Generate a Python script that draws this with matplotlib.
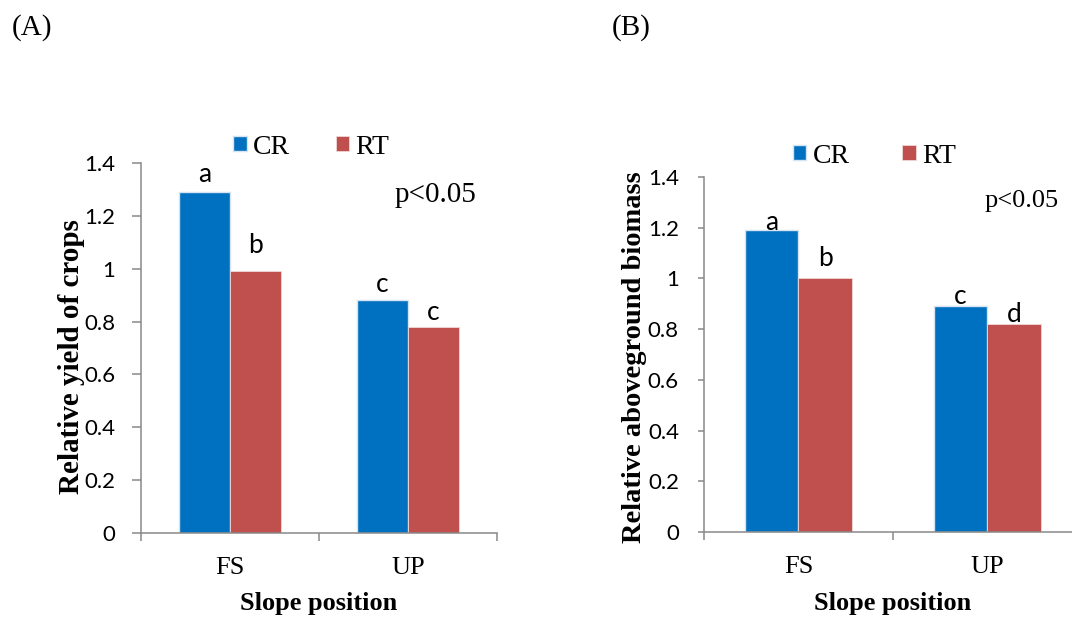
import matplotlib
matplotlib.use("Agg")
import matplotlib.pyplot as plt
import numpy as np

# data
positions = ["FS", "UP"]
series = ["CR", "RT"]
yield_cr = [1.29, 0.88]
yield_rt = [0.99, 0.78]
yield_letters_cr = ["a", "c"]
yield_letters_rt = ["b", "c"]
biomass_cr = [1.19, 0.89]
biomass_rt = [1.00, 0.82]
biomass_letters_cr = ["a", "c"]
biomass_letters_rt = ["b", "d"]
yticks = [0, 0.2, 0.4, 0.6, 0.8, 1, 1.2, 1.4]
ytick_labels = ["0", "0.2", "0.4", "0.6", "0.8", "1", "1.2", "1.4"]

blue = "#0070C0"
red = "#C0504D"
grey = "#898989"
serif = "Liberation Serif"
sans = "Lato"

fig = plt.figure(figsize=(10.72, 6.19), dpi=100)


def panel(rect, cr, rt, let_cr, let_rt, pads_cr, pads_rt, ylabel, ylab_xy, xlab_y,
          tick_len, tick_pad, leg_xy, colspace, p_xy, p_size):
    ax = fig.add_axes(rect)
    x = np.arange(len(positions))
    w = 0.285
    b1 = ax.bar(x - w / 2, cr, w, color=blue, edgecolor="#d5e3f3", linewidth=1.0, label=series[0])
    b2 = ax.bar(x + w / 2, rt, w, color=red, edgecolor="#f0d8d7", linewidth=0.6, label=series[1])
    for bars, labs, pads in ((b1, let_cr, pads_cr), (b2, let_rt, pads_rt)):
        for r, t, pd in zip(bars, labs, pads):
            ax.annotate(t, (r.get_x() + r.get_width() / 2, r.get_height()),
                        xytext=(0, pd), textcoords="offset points",
                        ha="center", va="baseline", fontsize=19, family=sans)
    ax.set_xlim(-0.5, 1.5)
    ax.set_ylim(0, 1.4)
    ax.set_yticks(yticks)
    ax.set_yticklabels(ytick_labels, family=sans, fontsize=16)
    # category names in the middle, tick marks on the boundaries
    ax.set_xticks([-0.5, 0.5, 1.5])
    ax.set_xticklabels([])
    ax.set_xticks(x, minor=True)
    ax.set_xticklabels(positions, minor=True, family=serif, fontsize=19)
    ax.tick_params(axis="x", which="minor", length=0, pad=17)
    ax.tick_params(axis="x", which="major", length=6, width=1.1, color=grey, direction="out")
    ax.tick_params(axis="y", length=tick_len, width=1.1, color=grey, direction="out", pad=tick_pad)
    for s in ("top", "right"):
        ax.spines[s].set_visible(False)
    for s in ("left", "bottom"):
        ax.spines[s].set_color(grey)
        ax.spines[s].set_linewidth(1.1)
    ax.set_xlabel("Slope position", family=serif, fontsize=19, fontweight="bold")
    ax.xaxis.set_label_coords(0.5, xlab_y)
    ax.set_ylabel(ylabel, family=serif, fontsize=ylab_xy[2], fontweight="bold")
    ax.yaxis.set_label_coords(ylab_xy[0], ylab_xy[1])
    ax.legend(loc="center", bbox_to_anchor=leg_xy, ncol=2, frameon=False,
              prop={"family": serif, "size": 20}, handlelength=0.48, handleheight=0.48,
              handletextpad=0.22, columnspacing=colspace, borderpad=0)
    ax.text(p_xy[0], p_xy[1], "p<0.05", transform=ax.transAxes, ha="center", va="center",
            family=serif, fontsize=p_size)
    return ax


panel([0.1315, 0.1389, 0.3321, 0.5978], yield_cr, yield_rt, yield_letters_cr, yield_letters_rt,
      [7, 6], [13, 5], "Relative yield of crops", (-0.158, 0.478, 21), -0.160,
      6.5, 12, (0.478, 1.043), 1.65, (0.826, 0.913), 21)
panel([0.6567, 0.1405, 0.3526, 0.5735], biomass_cr, biomass_rt, biomass_letters_cr, biomass_letters_rt,
      [0.5, 2], [9, 1.5], "Relative aboveground biomass", (-0.150, 0.493, 20.5), -0.168,
      4.5, 13.5, (0.451, 1.059), 1.9, (0.839, 0.932), 19)

fig.text(0.0112, 0.955, "(A)", family=serif, fontsize=21, va="center")
fig.text(0.571, 0.955, "(B)", family=serif, fontsize=21, va="center")

fig.savefig("out.png", dpi=100)
